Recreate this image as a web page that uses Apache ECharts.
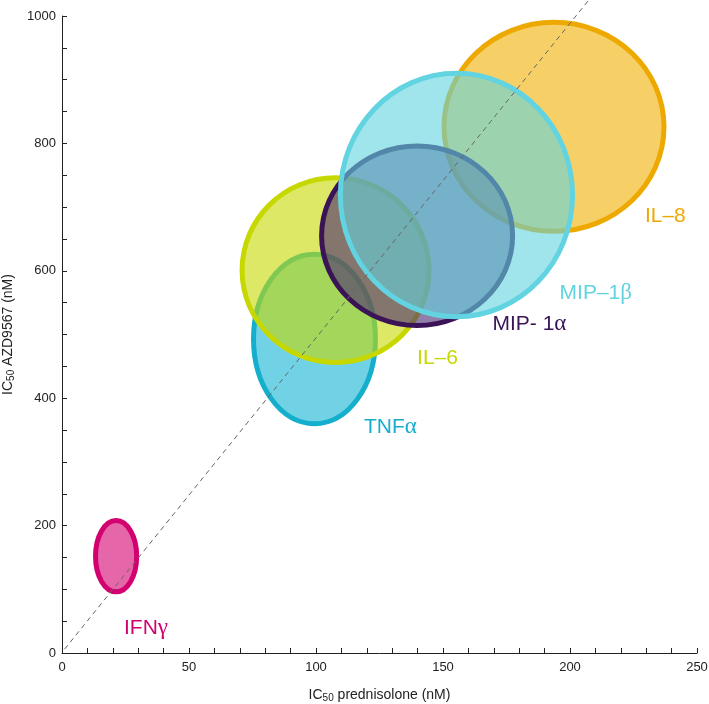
<!DOCTYPE html>
<html>
<head>
<meta charset="utf-8">
<script src="https://cdn.jsdelivr.net/npm/echarts@6/dist/echarts.min.js"></script>
<style>html,body{margin:0;padding:0;background:#fff}#c{width:709px;height:704px}</style>
</head>
<body>
<div id="c"></div>
<script>
// Data (nM)
var names = ['IFNγ', 'TNFα', 'IL–6', 'IL–8', 'MIP- 1α', 'MIP–1β'];
var centerX = [21.3, 99.4, 107.7, 193.7, 139.8, 155.3];
var centerY = [152, 493, 601, 826, 655, 719];
var radiusX = [8.1, 24.0, 36.8, 43.3, 37.6, 45.7];
var radiusY = [56, 133, 145, 164, 141, 191];
var labelX = [24.4, 118.9, 139.8, 229.5, 169.5, 195.9];
var labelY = [39, 355, 463, 686, 516, 565];
var strokeColors = ['#d3006f', '#14afcc', '#c6d800', '#eea900', '#3a1457', '#62d3e0'];
var fillColors = ['#d3006f', '#14b4d4', '#c6d800', '#f0b000', '#4a2a70', '#62d3e0'];
var diagX = [1, 208];
var diagY = [6, 1028];

var FONT = 'Liberation Sans, Arial, Helvetica, sans-serif';
var SERIF = 'Liberation Serif, DejaVu Serif, serif';
var chart = echarts.init(document.getElementById('c'), null, {renderer: 'canvas'});
var ellipseData = names.map(function (n, i) {
  return [centerX[i], centerY[i], radiusX[i], radiusY[i], i];
});
var labelData = names.map(function (n, i) {
  return {
    value: [labelX[i], labelY[i]], name: n,
    label: {
      color: strokeColors[i],
      rich: {
        t: {color: strokeColors[i], fontSize: 21, fontFamily: FONT},
        g: {color: strokeColors[i], fontSize: 23, fontFamily: SERIF}
      }
    }
  };
});
function richName(s) {
  var out = '';
  for (var k = 0; k < s.length; k++) {
    var ch = s[k];
    if (/[α-ω]/.test(ch)) out += '{g|' + ch + '}';
    else out += '{t|' + ch + '}';
  }
  return out;
}
var option = {
  animation: false,
  backgroundColor: '#fff',
  grid: {left: 62, right: 12, top: 16, bottom: 51, containLabel: false, outerBoundsMode: 'none'},
  xAxis: {
    type: 'value', min: 0, max: 250, interval: 50,
    name: '{a|IC}{s|50}{a| prednisolone (nM)}',
    nameLocation: 'middle', nameGap: 34,
    nameTextStyle: {rich: {a: {fontSize: 14, color: '#222', fontFamily: FONT}, s: {fontSize: 10, color: '#222', fontFamily: FONT, verticalAlign: 'bottom', padding: [6, 0, 0, 0]}}},
    axisLine: {show: true, lineStyle: {color: '#222', width: 1}},
    axisTick: {show: true, inside: true, length: 5, lineStyle: {color: '#222'}},
    minorTick: {show: true, splitNumber: 5, length: 5, lineStyle: {color: '#222'}},
    axisLabel: {fontSize: 13, color: '#222', margin: 8, fontFamily: FONT, formatter: function (v) { return String(v); }},
    splitLine: {show: false}
  },
  yAxis: {
    type: 'value', min: 0, max: 1000, interval: 200,
    name: '{a|IC}{s|50}{a| AZD9567 (nM)}',
    nameLocation: 'middle', nameGap: 45, nameRotate: 90,
    nameTextStyle: {rich: {a: {fontSize: 14, color: '#222', fontFamily: FONT}, s: {fontSize: 10, color: '#222', fontFamily: FONT, verticalAlign: 'bottom', padding: [6, 0, 0, 0]}}},
    axisLine: {show: true, lineStyle: {color: '#222', width: 1}},
    axisTick: {show: true, inside: true, length: 5, lineStyle: {color: '#222'}},
    minorTick: {show: true, splitNumber: 4, length: 5, lineStyle: {color: '#222'}},
    axisLabel: {fontSize: 13, color: '#222', margin: 6, fontFamily: FONT, formatter: function (v) { return String(v); }},
    splitLine: {show: false}
  },
  series: [
    {
      type: 'line',
      data: [[diagX[0], diagY[0]], [diagX[1], diagY[1]]],
      symbol: 'none', clip: false, z: 10,
      lineStyle: {color: '#666', width: 1, type: [5, 4]},
      silent: true
    },
    {
      type: 'custom',
      data: ellipseData,
      clip: false,
      z: 2,
      renderItem: function (params, api) {
        var cx = api.value(0), cy = api.value(1), rx = api.value(2), ry = api.value(3), idx = api.value(4);
        var c = api.coord([cx, cy]);
        var s = api.size([rx, ry]);
        return {
          type: 'ellipse',
          shape: {cx: c[0], cy: c[1], rx: s[0], ry: s[1]},
          style: {fill: echarts.color.modifyAlpha(fillColors[idx], 0.6), stroke: strokeColors[idx], lineWidth: 5}
        };
      }
    },
    {
      type: 'scatter',
      data: labelData,
      symbolSize: 0,
      z: 20,
      itemStyle: {opacity: 1},
      label: {
        show: true, position: 'right', distance: 0, opacity: 1,
        formatter: function (p) { return richName(p.name); },
        fontSize: 21, fontFamily: FONT
      },
      silent: true
    }
  ]
};
chart.setOption(option);
</script>
</body>
</html>
